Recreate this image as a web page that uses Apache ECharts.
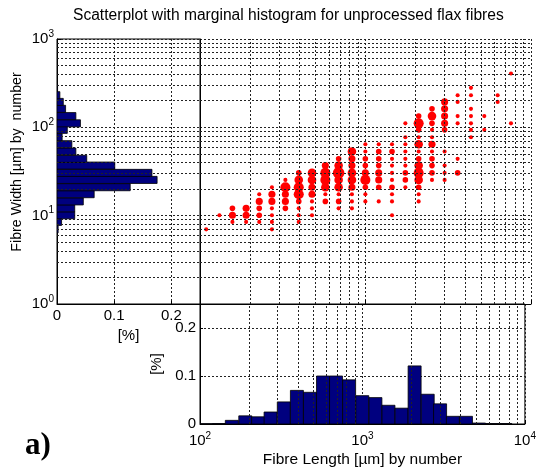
<!DOCTYPE html>
<html>
<head>
<meta charset="utf-8">
<script src="https://cdn.jsdelivr.net/npm/echarts@6.0.0/dist/echarts.min.js"></script>
</head>
<body style="margin:0;background:#fff">
<div id="main" style="width:539px;height:471px;"></div>
<script type="text/javascript">
// fibre width bins (bin centres, µm) and their share for the left histogram
var widthBins = [7.0, 8.5, 10.1, 12.1, 14.5, 17.5, 21, 25.4, 30.5, 36.9, 44, 53.2, 64.4, 77.3, 93.7, 111, 134, 162, 194, 231, 280];
var widthPct = [0.002, 0.008, 0.031, 0.031, 0.046, 0.065, 0.128, 0.175, 0.166, 0.101, 0.052, 0.033, 0.026, 0.009, 0.018, 0.041, 0.033, 0.015, 0.011, 0.005, 0.001];

// fibre length bins (bin centres, µm) and their share for the bottom histogram
var lengthBins = [109, 131, 157, 190, 228, 272, 328, 395, 475, 572, 688, 828, 998, 1202, 1446, 1741, 2095, 2522, 3006, 3603, 4338, 5222, 6288, 7570];
var lengthPct = [0.0005, 0.001, 0.0076, 0.017, 0.015, 0.025, 0.046, 0.070, 0.066, 0.100, 0.100, 0.092, 0.059, 0.055, 0.039, 0.033, 0.121, 0.062, 0.042, 0.016, 0.016, 0.002, 0.001, 0.001];

// scatter: [length, width, frequency level]
var scatterPoints = [
    [109, 7.0, 1],
    [131, 10.1, 1],
    [157, 12.1, 2], [157, 10.1, 3], [157, 8.5, 1],
    [190, 12.1, 3], [190, 10.1, 3], [190, 8.5, 1],
    [228, 17.5, 1], [228, 14.5, 3], [228, 12.1, 2], [228, 10.1, 2], [228, 8.5, 1],
    [272, 21, 1], [272, 17.5, 3], [272, 14.5, 3], [272, 12.1, 1], [272, 10.1, 1], [272, 8.5, 1], [272, 7.0, 1],
    [328, 25.4, 1], [328, 21, 5], [328, 17.5, 3], [328, 14.5, 3], [328, 12.1, 2],
    [395, 30.5, 2], [395, 25.4, 4], [395, 21, 5], [395, 17.5, 5], [395, 14.5, 2], [395, 12.1, 1], [395, 10.1, 1], [395, 8.5, 1],
    [475, 30.5, 4], [475, 25.4, 4], [475, 21, 3], [475, 17.5, 3], [475, 14.5, 1], [475, 12.1, 1], [475, 10.1, 1],
    [572, 36.9, 3], [572, 30.5, 5], [572, 25.4, 5], [572, 21, 4], [572, 17.5, 1], [572, 14.5, 2],
    [688, 44, 2], [688, 36.9, 4], [688, 30.5, 6], [688, 25.4, 4], [688, 21, 4], [688, 17.5, 1], [688, 14.5, 2], [688, 12.1, 1],
    [828, 53.2, 4], [828, 44, 3], [828, 36.9, 3], [828, 30.5, 4], [828, 25.4, 4], [828, 21, 3], [828, 17.5, 1], [828, 14.5, 1], [828, 12.1, 1],
    [998, 64.4, 1], [998, 53.2, 1], [998, 44, 2], [998, 36.9, 2], [998, 30.5, 3], [998, 25.4, 5], [998, 21, 2], [998, 17.5, 1], [998, 14.5, 1],
    [1202, 64.4, 1], [1202, 53.2, 2], [1202, 44, 2], [1202, 36.9, 2], [1202, 30.5, 3], [1202, 25.4, 3], [1202, 21, 2], [1202, 14.5, 1],
    [1446, 64.4, 1], [1446, 53.2, 2], [1446, 44, 1], [1446, 36.9, 1], [1446, 30.5, 1], [1446, 25.4, 1], [1446, 21, 2], [1446, 17.5, 1], [1446, 14.5, 1], [1446, 10.1, 1],
    [1741, 111, 1], [1741, 77.3, 1], [1741, 64.4, 1], [1741, 53.2, 1], [1741, 44, 1], [1741, 36.9, 1], [1741, 30.5, 2], [1741, 25.4, 2], [1741, 21, 1],
    [2095, 134, 2], [2095, 111, 5], [2095, 93.7, 2], [2095, 77.3, 1], [2095, 64.4, 4], [2095, 53.2, 1], [2095, 44, 2], [2095, 36.9, 4], [2095, 30.5, 5], [2095, 25.4, 4], [2095, 21, 2], [2095, 17.5, 1], [2095, 14.5, 1],
    [2522, 162, 2], [2522, 134, 4], [2522, 111, 2], [2522, 93.7, 1], [2522, 77.3, 1], [2522, 64.4, 3], [2522, 53.2, 1], [2522, 44, 2], [2522, 36.9, 2], [2522, 30.5, 2], [2522, 25.4, 1],
    [3006, 194, 3], [3006, 162, 3], [3006, 134, 3], [3006, 111, 3], [3006, 93.7, 2], [3006, 53.2, 1], [3006, 36.9, 1], [3006, 30.5, 1], [3006, 25.4, 1],
    [3603, 231, 1], [3603, 194, 1], [3603, 134, 1], [3603, 111, 1], [3603, 44, 1], [3603, 30.5, 2],
    [4338, 280, 1], [4338, 231, 1], [4338, 162, 1], [4338, 134, 1], [4338, 111, 1], [4338, 93.7, 1], [4338, 77.3, 1],
    [5222, 134, 1], [5222, 93.7, 1],
    [6288, 231, 1], [6288, 194, 1],
    [7570, 407, 1], [7570, 111, 1]
];

var pctTicks = ['0', '0.1', '0.2'];

// half a bin (bins are 0.08 decades wide)
var HALF_BIN = Math.pow(10, 0.04);
var FONT = '"Liberation Sans", Arial, sans-serif';
var BAR_COLOR = '#00007f';

// log minor grid positions (2..9 x decade)
var minorW = [], minorL = [];
[1, 10, 100].forEach(function (d) { for (var m = 2; m <= 9; m++) minorW.push(m * d); });
[100, 1000].forEach(function (d) { for (var m = 2; m <= 9; m++) minorL.push(m * d); });

var dotted = { color: '#222', type: [2, 2], width: 1 };

function powLabel(v) {
    return '{b|10}{s|' + Math.round(Math.log10(v)) + '}';
}
var powRich = {
    b: { fontSize: 15, fontFamily: FONT, color: '#000', lineHeight: 20 },
    s: { fontSize: 10, fontFamily: FONT, color: '#000', lineHeight: 11, verticalAlign: 'top' }
};
function pctLabel(v) {
    var i = Math.round(v * 10);
    return (Math.abs(v * 10 - i) < 1e-6 && i < pctTicks.length) ? pctTicks[i] : '';
}

function gridLines(xi, vals, key) {
    return {
        type: 'line', xAxisIndex: xi, yAxisIndex: xi, data: [], z: 1, silent: true,
        markLine: {
            silent: true, symbol: 'none', label: { show: false }, animation: false,
            lineStyle: dotted,
            data: vals.map(function (v) { var o = {}; o[key] = v; return o; })
        }
    };
}

var myChart = echarts.init(document.getElementById('main'));

option = {
    animation: false,
    backgroundColor: '#fff',
    title: {
        text: 'Scatterplot with marginal histogram for unprocessed flax fibres',
        left: 68, top: 3,
        textStyle: { fontSize: 15.6, fontWeight: 'normal', fontFamily: FONT, color: '#000' }
    },
    grid: [
        { left: 57, top: 39, width: 143, height: 265, show: true, borderColor: '#000', borderWidth: 1, backgroundColor: 'transparent' },
        { left: 200, top: 39, width: 331, height: 265 },
        { left: 200, top: 304, width: 331, height: 120, show: true, borderColor: '#000', borderWidth: 1, backgroundColor: 'transparent' }
    ],
    xAxis: [
        {
            gridIndex: 0, type: 'value', min: 0, max: 0.25, interval: 0.1,
            axisLine: { show: true, lineStyle: { color: '#000' } },
            axisTick: { show: true, inside: true, length: 3, lineStyle: { color: '#000' } },
            axisLabel: { margin: 4, fontSize: 15, fontFamily: FONT, color: '#000', formatter: pctLabel },
            splitLine: { show: true, lineStyle: dotted },
            name: '[%]', nameLocation: 'middle', nameGap: 22,
            nameTextStyle: { fontSize: 15, fontFamily: FONT, color: '#000' }
        },
        {
            gridIndex: 1, type: 'log', logBase: 10, min: 100, max: 10000,
            axisLine: { show: true, onZero: false, lineStyle: { color: '#000' } },
            axisTick: { show: true, inside: true, length: 4, lineStyle: { color: '#000' } },
            axisLabel: { show: false },
            splitLine: { show: true, lineStyle: dotted }
        },
        {
            gridIndex: 2, type: 'log', logBase: 10, min: 100, max: 10000,
            axisLine: { show: true, onZero: false, lineStyle: { color: '#000' } },
            axisTick: { show: true, inside: true, length: 4, lineStyle: { color: '#000' } },
            axisLabel: { margin: 7, formatter: powLabel, rich: powRich },
            splitLine: { show: true, lineStyle: dotted },
            name: 'Fibre Length [µm] by number', nameLocation: 'middle', nameGap: 28,
            nameTextStyle: { fontSize: 15.5, fontFamily: FONT, color: '#000' }
        }
    ],
    yAxis: [
        {
            gridIndex: 0, type: 'log', logBase: 10, min: 1, max: 1000,
            axisLine: { show: true, lineStyle: { color: '#000' } },
            axisTick: { show: true, inside: true, length: 4, lineStyle: { color: '#000' } },
            axisLabel: { margin: 3, formatter: powLabel, rich: powRich },
            splitLine: { show: true, lineStyle: dotted }
        },
        {
            gridIndex: 1, type: 'log', logBase: 10, min: 1, max: 1000,
            axisLine: { show: true, onZero: false, lineStyle: { color: '#000' } },
            axisTick: { show: false },
            axisLabel: { show: false },
            splitLine: { show: true, lineStyle: dotted }
        },
        {
            gridIndex: 2, type: 'value', min: 0, max: 0.25, interval: 0.1,
            axisLine: { show: true, lineStyle: { color: '#000' } },
            axisTick: { show: true, inside: true, length: 3, lineStyle: { color: '#000' } },
            axisLabel: { margin: 4, fontSize: 15, fontFamily: FONT, color: '#000', formatter: pctLabel },
            splitLine: { show: true, lineStyle: dotted },
            name: '[%]', nameLocation: 'middle', nameGap: 30,
            nameTextStyle: { fontSize: 15, fontFamily: FONT, color: '#000' }
        }
    ],
    graphic: [
        {
            type: 'text', x: 17, y: 162, rotation: Math.PI / 2,
            style: { text: 'Fibre Width [µm] by  number', font: '14.2px ' + FONT, fill: '#000', align: 'center', verticalAlign: 'middle' }
        },
        {
            type: 'text', x: 38, y: 446,
            style: { text: 'a)', font: 'bold 31px "Liberation Serif", "Times New Roman", serif', fill: '#000', align: 'center', verticalAlign: 'middle' }
        }
    ],
    series: [
        gridLines(0, minorW, 'yAxis'),
        {
            type: 'custom', xAxisIndex: 0, yAxisIndex: 0, z: 3, clip: true,
            data: widthBins.map(function (w, i) { return [widthPct[i], w]; }),
            encode: { x: 0, y: 1 },
            renderItem: function (params, api) {
                var lo = api.coord([0, api.value(1) / HALF_BIN]);
                var hi = api.coord([api.value(0), api.value(1) * HALF_BIN]);
                return {
                    type: 'rect',
                    shape: { x: lo[0], y: hi[1], width: hi[0] - lo[0], height: lo[1] - hi[1] },
                    style: { fill: BAR_COLOR, stroke: '#000', lineWidth: 0.8 }
                };
            }
        },
        gridLines(1, minorW, 'yAxis'),
        gridLines(1, minorL, 'xAxis'),
        {
            type: 'scatter', xAxisIndex: 1, yAxisIndex: 1, z: 3,
            data: scatterPoints,
            symbol: 'circle',
            symbolSize: function (d) { return 2.6 + 1.5 * d[2]; },
            itemStyle: { color: '#ff0000', opacity: 1 }
        },
        gridLines(2, minorL, 'xAxis'),
        {
            type: 'custom', xAxisIndex: 2, yAxisIndex: 2, z: 3, clip: true,
            data: lengthBins.map(function (l, i) { return [l, lengthPct[i]]; }),
            encode: { x: 0, y: 1 },
            renderItem: function (params, api) {
                var lo = api.coord([api.value(0) / HALF_BIN, 0]);
                var hi = api.coord([api.value(0) * HALF_BIN, api.value(1)]);
                return {
                    type: 'rect',
                    shape: { x: lo[0], y: hi[1], width: hi[0] - lo[0], height: lo[1] - hi[1] },
                    style: { fill: BAR_COLOR, stroke: '#000', lineWidth: 0.8 }
                };
            }
        }
    ]
};

myChart.setOption(option);
</script>
</body>
</html>
